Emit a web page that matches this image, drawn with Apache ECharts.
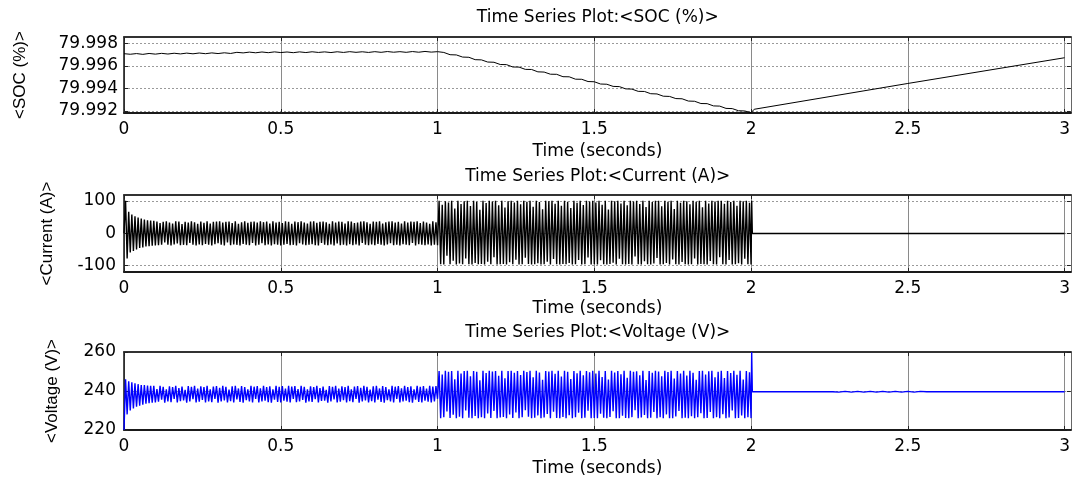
<!DOCTYPE html>
<html><head><meta charset="utf-8">
<script src="https://cdn.jsdelivr.net/npm/echarts@6/dist/echarts.min.js"></script>
<style>html,body{margin:0;padding:0;background:#fff}#c{width:1073px;height:479px}</style>
</head><body><div id="c"></div>
<script>
// ---------- data ----------
const timeTicks = [0, 0.5, 1, 1.5, 2, 2.5, 3];
const socTicks = [79.992, 79.994, 79.996, 79.998];
const currentTicks = [-100, 0, 100];
const voltageTicks = [220, 240, 260];
const titles = ['Time Series Plot:<SOC (%)>', 'Time Series Plot:<Current (A)>', 'Time Series Plot:<Voltage (V)>'];
const yNames = ['<SOC (%)>', '<Current (A)>', '<Voltage (V)>'];
const xName = 'Time (seconds)';

// SOC sampled every 0.02 s from 0 to 2 s
const socStep = 0.02;
const soc = [
  79.99708, 79.99703, 79.99709, 79.99702, 79.99710, 79.99704, 79.99711, 79.99705, 79.99712, 79.99706,
  79.99713, 79.99707, 79.99714, 79.99708, 79.99715, 79.99709, 79.99716, 79.99710, 79.99720, 79.99715,
  79.99722, 79.99716, 79.99723, 79.99717, 79.99724, 79.99718, 79.99723, 79.99717, 79.99724, 79.99718,
  79.99725, 79.99719, 79.99724, 79.99718, 79.99725, 79.99719, 79.99726, 79.99720, 79.99725, 79.99719,
  79.99726, 79.99720, 79.99727, 79.99721, 79.99726, 79.99720, 79.99727, 79.99721, 79.99728, 79.99722,
  79.99726,
  79.99719, 79.99699, 79.99697, 79.99678, 79.99676, 79.99655, 79.99653, 79.99634, 79.99632, 79.99612,
  79.99611, 79.99590, 79.99589, 79.99569, 79.99568, 79.99547, 79.99545, 79.99526, 79.99525, 79.99504,
  79.99503, 79.99482, 79.99481, 79.99461, 79.99459, 79.99439, 79.99437, 79.99418, 79.99416, 79.99396,
  79.99394, 79.99374, 79.99373, 79.99353, 79.99351, 79.99331, 79.99329, 79.99310, 79.99308, 79.99288,
  79.99286, 79.99266, 79.99265, 79.99245, 79.99243, 79.99223, 79.99221, 79.99202, 79.99200, 79.99185
];
const socTailTime = [2.01, 2.5, 3.0];
const socTail = [79.99215, 79.99444, 79.99672];

// Current and voltage sampled every 0.005 s from 0 to 2 s (one row = 0.1 s)
const sampleStep = 0.005;
const current = [
  0, 100, -78, 66, -60, 58, -55, 52, -50, 48, -46, 45, -44, 42, -41, 40, -40, 39, -39, 38,
  -38, 36, -37, 31, -36, 35, -29, 37, -36, 33, -38, 30, -35, 37, -32, 36, -37, 28, -36, 35,
  -37, 33, -30, 37, -36, 34, -38, 29, -35, 36, -37, 32, -33, 37, -36, 30, -38, 35, -34, 36,
  -31, 37, -36, 33, -38, 35, -29, 36, -37, 31, -35, 37, -36, 29, -38, 34, -33, 37, -36, 32,
  -37, 35, -30, 36, -38, 33, -36, 37, -31, 34, -37, 36, -35, 30, -38, 37, -34, 33, -36, 35,
  -38, 31, -36, 37, -33, 35, -37, 29, -36, 36, -38, 34, -31, 37, -35, 33, -37, 30, -36, 36,
  -34, 37, -37, 32, -38, 35, -30, 36, -36, 34, -37, 29, -35, 37, -38, 33, -32, 36, -37, 35,
  -36, 30, -38, 37, -34, 36, -37, 31, -35, 33, -38, 36, -30, 37, -36, 34, -37, 29, -35, 36,
  -37, 35, -33, 37, -36, 30, -38, 34, -35, 36, -31, 37, -37, 33, -36, 35, -38, 30, -34, 37,
  -36, 33, -37, 36, -30, 35, -38, 37, -34, 31, -36, 36, -37, 33, -35, 29, -38, 37, -36, 34,
  -37,
  100, -96, 88, -97, 99, -70, 95, -96, 100, -85, 76, -97, 100, -94, 90, -96, 99, -78, 100, -96,
  84, -97, 100, -92, 97, -96, 72, -95, 100, -97, 93, -88, 100, -96, 98, -74, 100, -97, 86, -96,
  100, -95, 79, -97, 99, -90, 100, -96, 95, -82, 100, -97, 89, -96, 100, -76, 97, -95, 100, -97,
  82, -96, 100, -93, 96, -97, 74, -96, 100, -88, 99, -97, 100, -80, 91, -96, 100, -97, 85, -95,
  100, -96, 97, -92, 78, -97, 100, -96, 94, -83, 100, -97, 87, -96, 100, -75, 98, -97, 100, -96,
  95, -97, 100, -84, 88, -96, 100, -97, 73, -95, 100, -91, 99, -97, 100, -79, 92, -96, 100, -97,
  86, -95, 100, -97, 98, -72, 100, -96, 90, -97, 100, -87, 81, -96, 100, -97, 96, -94, 100, -77,
  100, -97, 83, -96, 100, -92, 97, -97, 100, -81, 75, -96, 100, -97, 94, -89, 100, -96, 99, -97,
  89, -96, 100, -78, 97, -97, 100, -95, 80, -96, 100, -97, 92, -86, 100, -96, 98, -97, 100, -74,
  100, -96, 91, -97, 100, -83, 96, -97, 100, -96, 85, -93, 100, -97, 99, -79, 100, -96, 94, -97
];
const currentTailTime = [2.002, 2.004, 3.0];
const currentTail = [100, -1, -1];

const voltage = [
  220, 246, 228, 245, 230, 244.5, 231, 244, 232, 243.5, 232.5, 243, 233, 243, 233.5, 242.8, 233.8, 242.6, 234, 242.6,
  234.2, 241.0, 234.5, 242.6, 235.5, 242.2, 234.0, 240.8, 234.6, 242.4, 234.3, 242.0, 236.0, 242.6, 234.1, 241.5, 234.8, 242.3, 235.2, 240.6,
  234.0, 242.5, 234.6, 242.1, 235.8, 242.6, 234.2, 241.2, 234.5, 242.4, 235.4, 242.0, 234.1, 242.6, 234.7, 240.9, 234.3, 242.3, 235.9, 242.5,
  234.0, 241.6, 234.6, 242.6, 235.2, 242.1, 234.2, 240.7, 234.8, 242.4, 234.1, 242.6, 235.7, 241.3, 234.4, 242.5, 234.0, 242.0, 235.3, 240.8,
  234.6, 242.6, 234.2, 242.2, 235.9, 242.5, 234.1, 241.4, 234.7, 242.6, 235.1, 242.0, 234.3, 242.4, 234.0, 240.9, 235.6, 242.6, 234.4, 242.1,
  234.2, 242.5, 235.0, 241.2, 234.5, 242.6, 234.1, 242.3, 236.0, 242.5, 234.3, 241.0, 234.6, 242.6, 235.4, 242.2, 234.0, 240.8, 234.7, 242.4,
  234.4, 242.0, 235.8, 242.6, 234.2, 241.5, 234.9, 242.3, 235.1, 240.6, 234.0, 242.5, 234.6, 242.1, 235.7, 242.6, 234.2, 241.2, 234.5, 242.4,
  235.3, 242.0, 234.1, 242.6, 234.8, 240.9, 234.3, 242.3, 235.9, 242.5, 234.0, 241.6, 234.6, 242.6, 235.2, 242.1, 234.2, 240.7, 234.8, 242.4,
  234.1, 242.6, 235.6, 241.3, 234.4, 242.5, 234.0, 242.0, 235.3, 240.8, 234.6, 242.6, 234.2, 242.2, 235.9, 242.5, 234.1, 241.4, 234.7, 242.6,
  235.1, 242.0, 234.3, 242.4, 234.0, 240.9, 235.6, 242.6, 234.4, 242.1, 234.2, 242.5, 235.0, 241.2, 234.5, 242.6, 234.1, 242.3, 234.6, 242.5,
  236.0,
  250.2, 226.0, 248.5, 226.5, 250.4, 229.5, 249.8, 226.2, 250.3, 227.8, 246.0, 226.1, 250.4, 226.8, 249.0, 226.0, 250.2, 230.0, 250.4, 226.3,
  247.5, 226.0, 250.3, 227.2, 249.9, 226.1, 245.5, 226.6, 250.4, 226.0, 249.2, 228.5, 250.4, 226.2, 250.0, 229.8, 250.3, 226.0, 247.8, 226.4,
  250.4, 226.7, 246.5, 226.0, 250.2, 227.9, 250.4, 226.2, 249.4, 229.0, 250.3, 226.0, 248.2, 226.5, 250.4, 230.1, 249.7, 226.8, 250.4, 226.0,
  247.0, 226.3, 250.4, 227.5, 249.5, 226.0, 245.8, 226.4, 250.3, 228.2, 250.0, 226.0, 250.4, 229.4, 248.8, 226.2, 250.4, 226.0, 247.4, 226.7,
  250.4, 226.1, 249.8, 227.6, 246.2, 226.0, 250.3, 226.5, 249.1, 228.9, 250.4, 226.0, 248.0, 226.3, 250.2, 229.9, 249.6, 226.0, 250.4, 226.2,
  249.0, 226.0, 250.4, 228.4, 247.2, 226.3, 250.2, 226.0, 245.9, 226.7, 250.4, 229.6, 249.5, 226.1, 250.3, 226.0, 248.6, 227.3, 250.4, 226.2,
  246.8, 226.0, 250.4, 226.6, 249.9, 230.2, 250.1, 226.0, 248.1, 226.4, 250.4, 227.7, 245.6, 226.0, 250.3, 226.3, 249.3, 229.2, 250.4, 226.0,
  250.0, 226.5, 247.6, 226.0, 250.4, 228.0, 249.7, 226.1, 250.4, 226.0, 246.4, 226.9, 250.2, 229.7, 248.9, 226.0, 250.4, 226.3, 247.9, 226.0,
  250.4, 227.1, 249.4, 226.0, 245.7, 226.5, 250.3, 228.6, 250.4, 226.0, 248.4, 226.2, 250.1, 229.3, 250.4, 226.0, 247.1, 226.6, 249.8, 226.0,
  250.4, 228.1, 246.7, 226.0, 250.2, 226.4, 249.2, 230.0, 250.4, 226.0, 248.3, 226.2, 250.4, 227.4, 245.9, 226.0, 250.3, 226.5, 249.6, 226.1
];
const voltageTailTime = [2.002, 2.004, 2.26, 2.28, 2.30, 2.32, 2.34, 2.36, 2.38, 2.40, 2.42, 2.44, 2.46, 2.48, 2.50, 2.52, 2.54, 2.56, 3.0];
const voltageTail = [260, 239.6, 239.6, 239.4, 239.8, 239.4, 239.8, 239.4, 239.8, 239.4, 239.8, 239.4, 239.8, 239.4, 239.8, 239.4, 239.8, 239.6, 239.6];

// ---------- build ----------
function series(values, step, tailT, tailV) {
  const d = values.map((v, i) => [+(i * step).toFixed(4), v]);
  tailT.forEach((t, i) => d.push([t, tailV[i]]));
  return d;
}
const seriesData = [
  series(soc, socStep, socTailTime, socTail),
  series(current, sampleStep, currentTailTime, currentTail),
  series(voltage, sampleStep, voltageTailTime, voltageTail)
];
const lineColors = ['#000000', '#000000', '#0000ff'];
const lineWidths = [1, 1.4, 1.4];

const FONT = 'DejaVu Sans';
const panels = [
  {top: 37, height: 76, min: 79.99182, max: 79.99856, ticks: socTicks, dec: 3, yGap: 95, lblMargin: 6, xNameGap: 30, titleY: 18},
  {top: 195, height: 77, min: -120, max: 118, ticks: currentTicks, dec: 0, yGap: 68, lblMargin: 8, xNameGap: 28, titleY: 177},
  {top: 352, height: 78, min: 220, max: 260, ticks: voltageTicks, dec: 0, yGap: 63, lblMargin: 8, xNameGap: 30, titleY: 333}
];
const GL = 124, GW = 947.5, XMAX = 3.02;

const grid = [], xAxis = [], yAxis = [], ser = [], graphic = [];
panels.forEach((p, i) => {
  grid.push({left: GL, top: p.top, width: GW, height: p.height, containLabel: false});
  xAxis.push({
    gridIndex: i, type: 'value', position: 'bottom', min: 0, max: XMAX,
    name: xName, nameLocation: 'middle', nameGap: p.xNameGap,
    nameTextStyle: {fontFamily: FONT, fontSize: 17, color: '#000'},
    axisLine: {show: true, onZero: false, lineStyle: {color: '#1a1a1a', width: 2}},
    axisTick: {show: true, inside: true, length: 4, customValues: timeTicks, lineStyle: {color: '#222'}},
    axisLabel: {customValues: timeTicks, margin: 8, fontFamily: FONT, fontSize: 17, color: '#000', formatter: v => String(v)},
    splitLine: {show: true, lineStyle: {color: '#8a8a8a', width: 1}}
  });
  xAxis.push({
    gridIndex: i, type: 'value', position: 'top', min: 0, max: XMAX,
    axisLine: {show: true, onZero: false, lineStyle: {color: '#333', width: 2}},
    axisTick: {show: true, inside: true, length: 4, customValues: timeTicks, lineStyle: {color: '#222'}},
    axisLabel: {show: false}, splitLine: {show: false}
  });
  yAxis.push({
    gridIndex: i, type: 'value', position: 'left', min: p.min, max: p.max,
    name: yNames[i], nameLocation: 'middle', nameGap: p.yGap,
    nameTextStyle: {fontFamily: 'Liberation Sans', fontSize: 17, color: '#000'},
    axisLine: {show: true, onZero: false, lineStyle: {color: '#111', width: 1.5}},
    axisTick: {show: true, inside: true, length: 4, customValues: p.ticks, lineStyle: {color: '#222'}},
    axisLabel: {customValues: p.ticks, margin: p.lblMargin, fontFamily: FONT, fontSize: 17, color: '#000',
      formatter: v => Number(v).toFixed(p.dec)},
    splitLine: {show: true, lineStyle: {color: '#9a9a9a', width: 1, type: [2, 2]}}
  });
  yAxis.push({
    gridIndex: i, type: 'value', position: 'right', min: p.min, max: p.max,
    axisLine: {show: true, onZero: false, lineStyle: {color: '#666', width: 1}},
    axisTick: {show: true, inside: true, length: 4, customValues: p.ticks, lineStyle: {color: '#222'}},
    axisLabel: {show: false}, splitLine: {show: false}
  });
  ser.push({
    type: 'line', xAxisIndex: 2 * i, yAxisIndex: 2 * i, data: seriesData[i],
    showSymbol: false, symbol: 'none', animation: false, silent: true,
    lineStyle: {color: lineColors[i], width: lineWidths[i]}
  });
  graphic.push({
    type: 'text', x: GL + GW / 2, y: p.titleY,
    style: {text: titles[i], fontFamily: FONT, fontSize: 17, fill: '#000',
      align: 'center', verticalAlign: 'middle', textAlign: 'center', textVerticalAlign: 'middle'}
  });
});

const chart = echarts.init(document.getElementById('c'), null, {renderer: 'canvas'});
chart.setOption({
  backgroundColor: '#ffffff',
  animation: false,
  grid, xAxis, yAxis, series: ser, graphic
});
</script>
</body></html>
